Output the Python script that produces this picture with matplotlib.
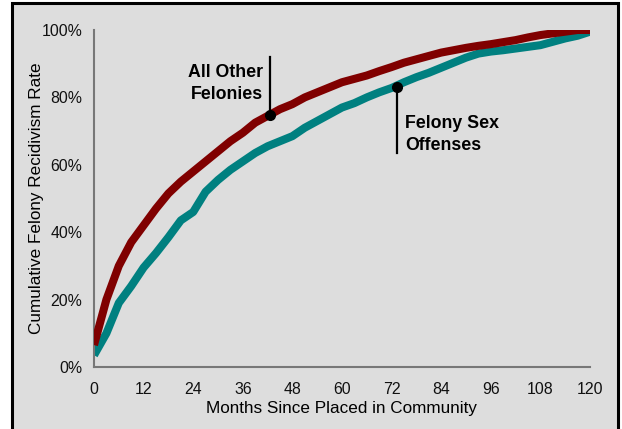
import matplotlib
matplotlib.use('Agg')
import matplotlib.pyplot as plt
from matplotlib.patches import Rectangle
from matplotlib.ticker import FuncFormatter

plt.rcParams['font.family'] = ['Liberation Sans', 'DejaVu Sans']

# months since placed in community
months = [0, 3, 6, 9, 12, 15, 18, 21, 24, 27, 30, 33, 36, 39, 42, 45, 48, 51, 54, 57,
          60, 63, 66, 69, 72, 75, 78, 81, 84, 87, 90, 93, 96, 99, 102, 105, 108, 111,
          114, 117, 120]

# cumulative felony recidivism rate (%)
other_felonies = [6.5, 20, 30, 37, 42, 47, 51.5, 55, 58, 61, 64, 67, 69.5, 72.5, 74.5,
                  76.5, 78, 80, 81.5, 83, 84.5, 85.5, 86.5, 87.8, 89, 90.3, 91.3, 92.3,
                  93.3, 94, 94.7, 95.3, 95.8, 96.4, 97, 97.8, 98.5, 99, 99.5, 100, 100]
sex_offenses = [3.5, 10, 19, 24, 29.5, 33.8, 38.5, 43.5, 46, 52, 55.5, 58.5, 61, 63.5,
                65.5, 67, 68.5, 71, 73, 75, 77, 78.3, 80, 81.5, 82.8, 84.5, 86, 87.3,
                88.8, 90.3, 91.8, 93, 93.6, 94, 94.5, 95, 95.5, 96.5, 97.5, 98.3, 99.5]

x_ticks = [0, 12, 24, 36, 48, 60, 72, 84, 96, 108, 120]
y_ticks = [0, 20, 40, 60, 80, 100]

# callout points (month, rate)
other_pt = (42.7, 74.8)
sex_pt = (73.2, 83.2)

RED = '#800000'
TEAL = '#008080'
GREY_BG = '#dddddd'

fig = plt.figure(figsize=(6.22, 4.29), dpi=100)
fig.patch.set_facecolor('white')

# grey panel with black frame (bottom edge runs off the image)
fig.patches.append(Rectangle((12 / 622, -0.05), 606 / 622, 1.05 - 3 / 429,
                             transform=fig.transFigure, facecolor=GREY_BG,
                             edgecolor='black', linewidth=2.2, zorder=-5))

ax = fig.add_axes([94 / 622, 62 / 429, 496 / 622, 337 / 429])
ax.set_facecolor('none')

ax.plot(months, other_felonies, color=RED, linewidth=5.8, solid_capstyle='butt', zorder=3)
ax.plot(months, sex_offenses, color=TEAL, linewidth=5.8, solid_capstyle='butt', zorder=2)

# callouts
ax.plot([other_pt[0], other_pt[0]], [other_pt[1], 92], color='black', linewidth=1.6, zorder=4)
ax.plot(*other_pt, 'o', color='black', markersize=7, zorder=5)
ax.text(other_pt[0] - 1.8, 84.2, 'All Other\nFelonies', ha='right', va='center',
        fontsize=12.8, fontweight='bold', linespacing=1.4)

ax.plot([sex_pt[0], sex_pt[0]], [sex_pt[1], 63.5], color='black', linewidth=1.6, zorder=4)
ax.plot(*sex_pt, 'o', color='black', markersize=7, zorder=5)
ax.text(sex_pt[0] + 2.0, 69.0, 'Felony Sex\nOffenses', ha='left', va='center',
        fontsize=12.8, fontweight='bold', linespacing=1.4)

ax.set_xlim(0, 120)
ax.set_ylim(0, 100)
ax.set_xticks(x_ticks)
ax.set_yticks(y_ticks)
ax.yaxis.set_major_formatter(FuncFormatter(lambda v, p: f'{int(v)}%'))
ax.tick_params(length=0, labelsize=11.4, colors='#111111')
ax.tick_params(axis='y', pad=8.5)
ax.tick_params(axis='x', pad=11)

for s in ['top', 'right']:
    ax.spines[s].set_visible(False)
for s in ['left', 'bottom']:
    ax.spines[s].set_color('#777777')
    ax.spines[s].set_linewidth(1.5)

ax.set_xlabel('Months Since Placed in Community', fontsize=12.3)
ax.set_ylabel('Cumulative Felony Recidivism Rate', fontsize=12.3)
ax.xaxis.set_label_coords(0.5, -0.101)
ax.yaxis.set_label_coords(-0.101, 0.5)

plt.savefig('out.png', dpi=100)
plt.close()
